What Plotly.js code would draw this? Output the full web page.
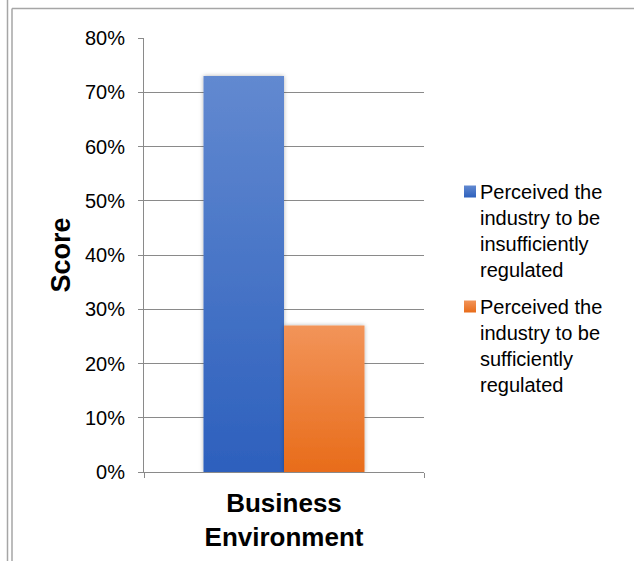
<!DOCTYPE html>
<html>
<head>
<meta charset="utf-8">
<script src="https://cdn.plot.ly/plotly-3.0.1.min.js"></script>
<style>html,body{margin:0;padding:0;background:#fff;}</style>
</head>
<body>
<div id="chart" style="width:634px;height:561px;"></div>
<script>
// Survey result: share of respondents by perception of regulation
const categories = ['Business<br>Environment'];
const seriesNames = [
  'Perceived the<br>industry to be<br>insufficiently<br>regulated',
  'Perceived the<br>industry to be<br>sufficiently<br>regulated'
];
const insufficientlyRegulated = [73];
const sufficientlyRegulated = [27];
const yTickValues = [0, 10, 20, 30, 40, 50, 60, 70, 80];
const yTickLabels = ['0%', '10%', '20%', '30%', '40%', '50%', '60%', '70%', '80%'];

// top/bottom stops of the bar fills
const gradients = [
  {id: 'fillBlue', top: '#6289d0', bottom: '#2d60bd', base: '#3f6fc6'},
  {id: 'fillOrange', top: '#f29459', bottom: '#e86c1a', base: '#ee7f36'}
];

const FONT = '"Liberation Sans", Arial, sans-serif';
const GRID = '#8a8a8a';

const traces = [insufficientlyRegulated, sufficientlyRegulated].map((vals, i) => ({
  type: 'bar',
  x: categories,
  y: vals,
  name: seriesNames[i],
  legendgroup: 'g' + i,
  marker: {color: gradients[i].base, line: {width: 0}},
  hoverinfo: 'none'
}));

// pixel -> paper helpers for the outer frame lines and legend anchor
const L = 144, R = 424, T = 38, B = 472;
const px = v => (v - L) / (R - L);
const py = v => (B - v) / (B - T);

const layout = {
  width: 634,
  height: 561,
  margin: {l: L, r: 634 - R, t: T, b: 561 - B},
  paper_bgcolor: '#ffffff',
  plot_bgcolor: '#ffffff',
  barmode: 'group',
  bargap: 0.425,
  bargroupgap: 0,
  font: {family: FONT, color: '#000000', size: 20},
  xaxis: {
    type: 'category',
    range: [-0.5, 0.5],
    showline: true,
    linecolor: GRID,
    linewidth: 1,
    ticks: 'outside',
    tickson: 'boundaries',
    ticklen: 5,
    tickcolor: GRID,
    showgrid: false,
    tickfont: {family: FONT, size: 26, color: '#000000', weight: 'bold'},
    ticklabelstandoff: 8,
    fixedrange: true
  },
  yaxis: {
    range: [0, 80],
    tickvals: yTickValues,
    ticktext: yTickLabels,
    showline: true,
    linecolor: GRID,
    linewidth: 1,
    ticks: 'outside',
    ticklen: 5,
    tickcolor: GRID,
    showgrid: true,
    gridcolor: GRID,
    gridwidth: 1,
    zeroline: false,
    tickfont: {family: FONT, size: 20, color: '#000000'},
    ticklabelstandoff: 9,
    automargin: true,
    title: {text: 'Score', standoff: 6, font: {family: FONT, size: 27, weight: 'bold', color: '#000000'}},
    fixedrange: true
  },
  legend: {
    x: px(440),
    xanchor: 'left',
    y: py(172),
    yanchor: 'top',
    valign: 'top',
    font: {family: FONT, size: 20, color: '#000000'},
    bgcolor: 'rgba(0,0,0,0)',
    borderwidth: 0,
    tracegroupgap: 8
  },
  showlegend: true,
  shapes: [
    {type: 'line', xref: 'paper', yref: 'paper', x0: px(7.5), x1: px(7.5), y0: py(0), y1: py(561), line: {color: '#a6a6a6', width: 1.5}},
    {type: 'line', xref: 'paper', yref: 'paper', x0: px(12), x1: px(12), y0: py(8.5), y1: py(561), line: {color: '#a6a6a6', width: 1.5}},
    {type: 'line', xref: 'paper', yref: 'paper', x0: px(12), x1: px(634), y0: py(8.5), y1: py(8.5), line: {color: '#a6a6a6', width: 1.5}}
  ]
};

const SVGNS = 'http://www.w3.org/2000/svg';
function el(name, attrs) {
  const e = document.createElementNS(SVGNS, name);
  Object.keys(attrs).forEach(k => e.setAttribute(k, attrs[k]));
  return e;
}

Plotly.newPlot('chart', traces, layout, {displayModeBar: false, staticPlot: true}).then(gd => {
  const svg = gd.querySelector('.main-svg');
  let defs = svg.querySelector('defs');
  if (!defs) { defs = el('defs', {}); svg.insertBefore(defs, svg.firstChild); }

  gradients.forEach(g => {
    const lg = el('linearGradient', {id: g.id, x1: '0', y1: '0', x2: '0', y2: '1'});
    lg.appendChild(el('stop', {offset: '0%', 'stop-color': g.top}));
    lg.appendChild(el('stop', {offset: '100%', 'stop-color': g.bottom}));
    defs.appendChild(lg);
  });
  const flt = el('filter', {id: 'barShade', x: '-10%', y: '-5%', width: '120%', height: '110%'});
  flt.appendChild(el('feDropShadow', {dx: '0', dy: '0', stdDeviation: '2.2', 'flood-color': '#000', 'flood-opacity': '0.3'}));
  defs.appendChild(flt);

  gd.querySelectorAll('.barlayer .trace').forEach((t, i) => {
    t.querySelectorAll('.point path').forEach(p => {
      p.style.fill = 'url(#' + gradients[i].id + ')';
      p.setAttribute('filter', 'url(#barShade)');
    });
  });
  gd.querySelectorAll('.legend .traces').forEach((t, i) => {
    const pts = t.querySelector('.legendpoints');
    if (pts) pts.setAttribute('transform', 'translate(10,0)');
    t.querySelectorAll('.legendpoints path').forEach(p => {
      p.style.fill = 'url(#' + gradients[i].id + ')';
    });
  });
});
</script>
</body>
</html>
